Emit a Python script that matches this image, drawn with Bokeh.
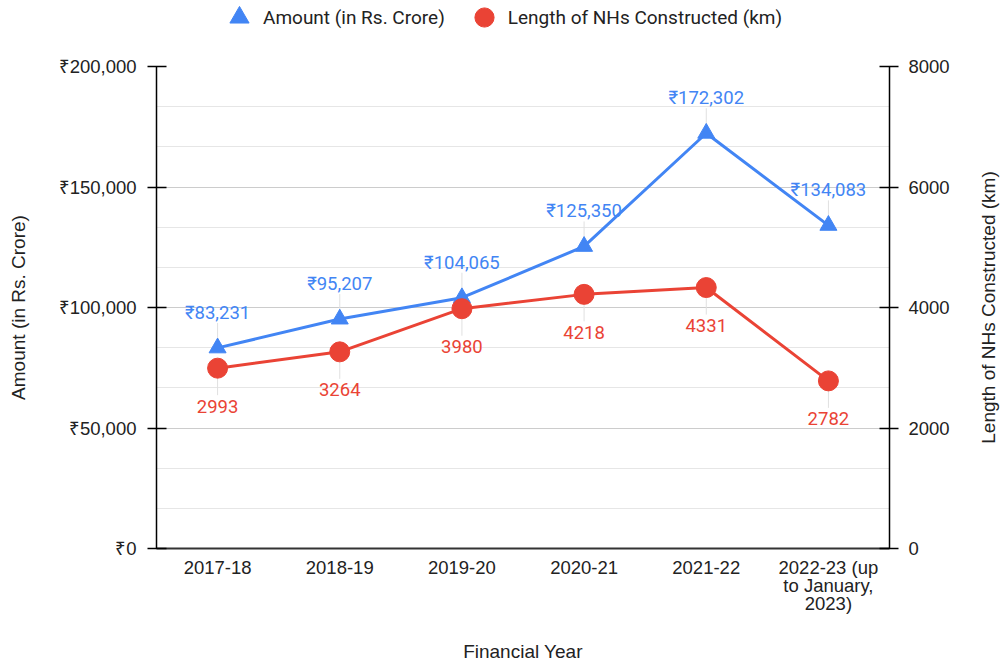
from bokeh.plotting import figure
from bokeh.layouts import column, row
from bokeh.models import (FactorRange, Range1d, LinearAxis, FixedTicker, Legend, LegendItem)
from bokeh.core.properties import value
from bokeh.embed import file_html
from bokeh.resources import INLINE

# ---------------- data ----------------
categories = ["2017-18", "2018-19", "2019-20", "2020-21", "2021-22",
              "2022-23 (up\nto January,\n2023)"]
amount_cr = [83231, 95207, 104065, 125350, 172302, 134083]
length_km = [2993, 3264, 3980, 4218, 4331, 2782]
amount_labels = ["₹{:,}".format(v) for v in amount_cr]
length_labels = [str(v) for v in length_km]

left_ticks = [0, 50000, 100000, 150000, 200000]
left_tick_labels = ["₹0", "₹50,000", "₹100,000", "₹150,000", "₹200,000"]
right_ticks = [0, 2000, 4000, 6000, 8000]
right_tick_labels = ["0", "2000", "4000", "6000", "8000"]

series_names = ["Amount (in Rs. Crore)", "Length of NHs Constructed (km)"]
x_title = "Financial Year"

BLUE = "#4285F4"
RED = "#EA4335"
TXT = "#222222"
TICK_FONT = "Arial, Liberation Sans, sans-serif"
LBL_FONT = "Roboto"
TICK_SIZE = "18.5px"
TITLE_SIZE = "19px"

AMT_MAX = 200000
KM_MAX = 8000
FRAME_H = 482
LEG_H = 42          # legend strip height
MAIN_H = 665 - LEG_H
RT_W = 25           # strip holding the right-hand axis title
B_TOP, B_BOTTOM, B_LEFT = 24, 117, 156

p = figure(width=1000 - RT_W, height=MAIN_H,
           x_range=FactorRange(*categories, range_padding=0),
           y_range=Range1d(0, AMT_MAX),
           output_backend="svg", toolbar_location=None,
           min_border_left=B_LEFT, min_border_right=86,
           min_border_top=B_TOP, min_border_bottom=B_BOTTOM)
p.extra_y_ranges = {"km": Range1d(0, KM_MAX)}
p.x_range.factor_padding = 0
p.outline_line_color = None
p.background_fill_color = "white"
p.border_fill_color = "white"

# grid
minor = [k * AMT_MAX / 12 for k in range(13) if k % 3 != 0]
p.ygrid.ticker = FixedTicker(ticks=left_ticks, minor_ticks=minor)
p.ygrid.grid_line_color = "#cccccc"
p.ygrid.minor_grid_line_color = "#e6e6e6"
p.xgrid.grid_line_color = None

# left axis
ya = p.yaxis[0]
ya.ticker = FixedTicker(ticks=left_ticks)
ya.major_label_overrides = {t: l for t, l in zip(left_ticks, left_tick_labels)}
ya.axis_label = series_names[0]

# right axis (title drawn in its own strip so it reads bottom-to-top)
ra = LinearAxis(y_range_name="km", ticker=FixedTicker(ticks=right_ticks))
ra.major_label_overrides = {t: l for t, l in zip(right_ticks, right_tick_labels)}
p.add_layout(ra, "right")

for ax in (ya, ra):
    ax.axis_line_color = "black"
    ax.axis_line_width = 1.5
    ax.major_tick_line_color = "black"
    ax.major_tick_line_width = 1.5
    ax.major_tick_in = 10
    ax.major_tick_out = 9
    ax.minor_tick_line_color = None
    ax.major_label_text_font = TICK_FONT
    ax.major_label_text_font_size = TICK_SIZE
    ax.major_label_text_color = TXT
    ax.axis_label_text_font = TICK_FONT
    ax.axis_label_text_font_size = TITLE_SIZE
    ax.axis_label_text_font_style = "normal"
    ax.axis_label_text_color = TXT
ya.major_label_standoff = 11
ya.axis_label_standoff = 27
ra.major_label_standoff = 10

# bottom axis
xa = p.xaxis[0]
xa.axis_label = x_title
xa.axis_line_color = "#333333"
xa.axis_line_width = 2
xa.major_tick_line_color = None
xa.major_tick_out = 0
xa.major_tick_in = 0
xa.major_label_standoff = 8
xa.major_label_text_font = TICK_FONT
xa.major_label_text_font_size = TICK_SIZE
xa.major_label_text_line_height = 0.88
xa.major_label_text_color = TXT
xa.axis_label_text_font = TICK_FONT
xa.axis_label_text_font_size = TITLE_SIZE
xa.axis_label_text_font_style = "normal"
xa.axis_label_text_color = TXT
xa.axis_label_standoff = 24
xa.major_label_orientation = "horizontal"

# leader lines (pixel offsets converted to data units)
pa = AMT_MAX / FRAME_H
pk = KM_MAX / FRAME_H
p.segment(x0=categories, x1=categories,
          y0=[v + 7 * pa for v in amount_cr], y1=[v + 25 * pa for v in amount_cr],
          line_color="#e0e0e0", line_width=1)
p.segment(x0=categories, x1=categories,
          y0=[v - 10 * pk for v in length_km], y1=[v - 27 * pk for v in length_km],
          line_color="#e0e0e0", line_width=1, y_range_name="km")

# lines & markers
p.line(categories, amount_cr, line_color=BLUE, line_width=3)
p.scatter(categories, amount_cr, marker="triangle", size=17,
          fill_color=BLUE, line_color=BLUE)
p.line(categories, length_km, line_color=RED, line_width=3, y_range_name="km")
p.scatter(categories, length_km, marker="circle", size=20,
          fill_color=RED, line_color=RED, y_range_name="km")

# data labels
p.text(x=categories, y=amount_cr, text=amount_labels, y_offset=-35,
       text_align="center", text_baseline="middle",
       text_font=value(LBL_FONT), text_font_size="18.5px", text_color=BLUE)
p.text(x=categories, y=length_km, text=length_labels, y_offset=38,
       text_align="center", text_baseline="middle", y_range_name="km",
       text_font=value(LBL_FONT), text_font_size="18.5px", text_color=RED)

# ---------------- right-axis title strip ----------------
rt = figure(width=RT_W, height=MAIN_H, x_range=Range1d(0, 1), y_range=Range1d(0, 1),
            output_backend="svg", toolbar_location=None,
            x_axis_type=None, y_axis_type=None,
            min_border_left=0, min_border_right=0,
            min_border_top=B_TOP, min_border_bottom=B_BOTTOM)
rt.outline_line_color = None
rt.grid.visible = False
rt.text(x=[0.5], y=[0.5], text=[series_names[1]], angle=1.5707963267948966,
        text_align="center", text_baseline="middle",
        text_font=value("Arial, Liberation Sans, sans-serif"),
        text_font_size=TITLE_SIZE, text_color=TXT)

# ---------------- legend strip on top ----------------
lg = figure(width=1000, height=LEG_H, x_range=Range1d(0, 1), y_range=Range1d(0, 1),
            output_backend="svg", toolbar_location=None,
            x_axis_type=None, y_axis_type=None,
            min_border_left=B_LEFT, min_border_right=111,
            min_border_top=0, min_border_bottom=0)
lg.outline_line_color = None
lg.grid.visible = False
nan = float("nan")
k_amt = lg.scatter(x=[nan], y=[nan], marker="triangle", size=17, fill_color=BLUE, line_color=BLUE)
k_km = lg.scatter(x=[nan], y=[nan], marker="circle", size=20, fill_color=RED, line_color=RED)
legend = Legend(items=[LegendItem(label=series_names[0], renderers=[k_amt]),
                       LegendItem(label=series_names[1], renderers=[k_km])],
                orientation="horizontal", location=(59, 1),
                padding=0, margin=0, spacing=15, label_standoff=0,
                glyph_width=48, glyph_height=48, label_height=20,
                border_line_color=None, background_fill_alpha=0,
                label_text_font=LBL_FONT, label_text_font_size="19px",
                label_text_color=TXT)
lg.add_layout(legend, "center")

layout = column(lg, row(p, rt, spacing=0), spacing=0)
open("out.html", "w").write(file_html(layout, INLINE))
